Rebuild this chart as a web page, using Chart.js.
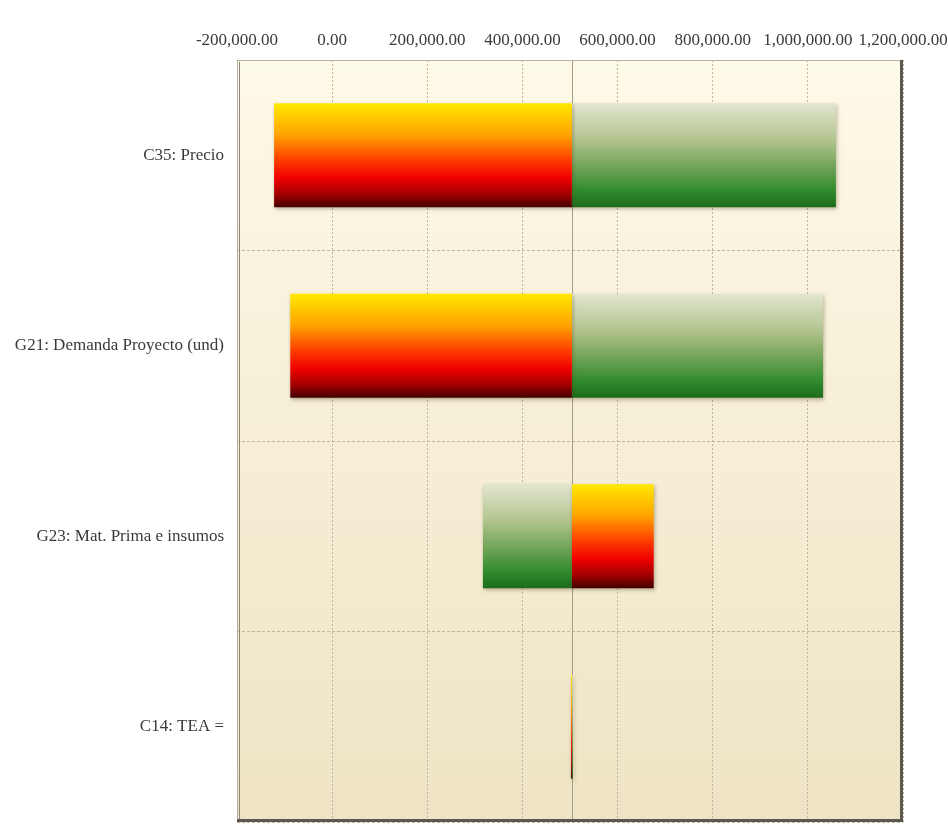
<!DOCTYPE html>
<html>
<head>
<meta charset="utf-8">
<title>Tornado</title>
<script src="https://cdn.jsdelivr.net/npm/chart.js@4/dist/chart.umd.min.js"></script>
<style>
    html, body { margin: 0; padding: 0; background: #ffffff; }
    #tornadoChart { display: block; }
</style>
</head>
<body>
<canvas id="tornadoChart" width="948" height="825"></canvas>
<script>
// Valores del gráfico tornado
var categories = ['C35: Precio', 'G21: Demanda Proyecto (und)', 'G23: Mat. Prima e insumos', 'C14: TEA ='];
var baseValue = 504000;
var lowInputResults = [-122000, -88000, 676000, 502000];   // barras rojas
var highInputResults = [1059000, 1032000, 317000, 506000]; // barras verdes
var xTicks = [-200000, 0, 200000, 400000, 600000, 800000, 1000000, 1200000];

var barPct = 0.545;
var serif = '"Times New Roman", "Liberation Serif", serif';

var redStops = [[0, '#ffe900'], [0.3, '#ffa400'], [0.55, '#ff3c00'], [0.72, '#f00000'], [0.88, '#a00000'], [1, '#420000']];
var greenStops = [[0, '#e2e6d0'], [0.35, '#b3c48e'], [0.6, '#74a55a'], [0.85, '#2f8a2b'], [1, '#1d6b1d']];

// Degradado vertical por barra, calculado con la escala de categorías
function barGradient(stops) {
    return function (ctx) {
        var chart = ctx.chart;
        var y = chart.scales.y;
        if (!chart.chartArea || !y || ctx.dataIndex === undefined) {
            return stops[3][1];
        }
        var band = y.height / categories.length;
        var mid = y.getPixelForValue(ctx.dataIndex);
        var half = band * barPct / 2;
        var g = chart.ctx.createLinearGradient(0, mid - half, 0, mid + half);
        stops.forEach(function (s) { g.addColorStop(s[0], s[1]); });
        return g;
    };
}

function money(v) {
    return v.toLocaleString('en-US', { minimumFractionDigits: 2, maximumFractionDigits: 2 });
}

// Fondo del área de trazado, marco y línea central
var plotFrame = {
    id: 'plotFrame',
    beforeDraw: function (chart) {
        var c = chart.ctx, a = chart.chartArea;
        var g = c.createLinearGradient(0, a.top, 0, a.bottom);
        g.addColorStop(0, '#fefae8');
        g.addColorStop(1, '#eee3c4');
        c.save();
        c.fillStyle = g;
        c.fillRect(a.left, a.top, a.right - a.left, a.bottom - a.top);
        c.restore();
    },
    beforeDatasetsDraw: function (chart) {
        var c = chart.ctx, a = chart.chartArea;
        var x0 = Math.round(chart.scales.x.getPixelForValue(baseValue)) + 0.5;
        c.save();
        c.setLineDash([]);
        c.strokeStyle = '#a39d8a';
        c.lineWidth = 1;
        c.beginPath();
        c.moveTo(x0, a.top);
        c.lineTo(x0, a.bottom);
        c.stroke();
        c.restore();
        c.save();
        c.shadowColor = 'rgba(70, 50, 10, 0.35)';
        c.shadowBlur = 4;
        c.shadowOffsetX = 1;
        c.shadowOffsetY = 2;
    },
    afterDatasetsDraw: function (chart) {
        chart.ctx.restore();
    },
    afterDraw: function (chart) {
        var c = chart.ctx, a = chart.chartArea;
        c.save();
        c.setLineDash([]);
        c.strokeStyle = '#b4b0a4';
        c.lineWidth = 1;
        c.beginPath();
        c.moveTo(a.left + 0.5, a.bottom);
        c.lineTo(a.left + 0.5, a.top + 0.5);
        c.lineTo(a.right, a.top + 0.5);
        c.stroke();
        c.strokeStyle = '#8c887c';
        c.beginPath();
        c.moveTo(a.left + 2.5, a.bottom);
        c.lineTo(a.left + 2.5, a.top + 2);
        c.stroke();
        c.strokeStyle = '#5a5850';
        c.lineWidth = 3;
        c.beginPath();
        c.moveTo(a.right - 1.5, a.top);
        c.lineTo(a.right - 1.5, a.bottom - 1.5);
        c.lineTo(a.left, a.bottom - 1.5);
        c.stroke();
        c.restore();
    }
};

new Chart(document.getElementById('tornadoChart').getContext('2d'), {
    type: 'bar',
    data: {
        labels: categories,
        datasets: [
            {
                label: 'Entrada baja',
                data: lowInputResults.map(function (v) { return [baseValue, v]; }),
                backgroundColor: barGradient(redStops),
                borderWidth: 0
            },
            {
                label: 'Entrada alta',
                data: highInputResults.map(function (v) { return [baseValue, v]; }),
                backgroundColor: barGradient(greenStops),
                borderWidth: 0
            }
        ]
    },
    options: {
        indexAxis: 'y',
        responsive: false,
        animation: false,
        grouped: false,
        categoryPercentage: 1,
        barPercentage: barPct,
        layout: { padding: { top: 0, left: 0, right: 45, bottom: 3 } },
        plugins: {
            legend: { display: false },
            title: { display: false },
            tooltip: { enabled: false }
        },
        scales: {
            x: {
                position: 'top',
                min: -200000,
                max: 1200000,
                afterBuildTicks: function (scale) {
                    scale.ticks = xTicks.map(function (v) { return { value: v }; });
                },
                afterFit: function (scale) {
                    scale.height = 60;
                    scale.paddingLeft = 0;
                    scale.paddingRight = 0;
                },
                border: { display: false, dash: [2, 2] },
                grid: {
                    color: '#bdb5a0',
                    lineWidth: 1,
                    drawTicks: false
                },
                ticks: {
                    padding: 9,
                    maxRotation: 0,
                    autoSkip: false,
                    color: '#3a3a3a',
                    font: { family: serif, size: 17 },
                    callback: function (v) { return money(v); }
                }
            },
            y: {
                afterFit: function (scale) {
                    scale.width = 237;
                    scale.paddingTop = 0;
                    scale.paddingBottom = 0;
                },
                border: { display: false, dash: [3, 2] },
                grid: {
                    offset: true,
                    color: '#bdb5a0',
                    lineWidth: 1,
                    drawTicks: false
                },
                ticks: {
                    padding: 13,
                    color: '#3a3a3a',
                    font: { family: serif, size: 17 }
                }
            }
        }
    },
    plugins: [plotFrame]
});
</script>
</body>
</html>
